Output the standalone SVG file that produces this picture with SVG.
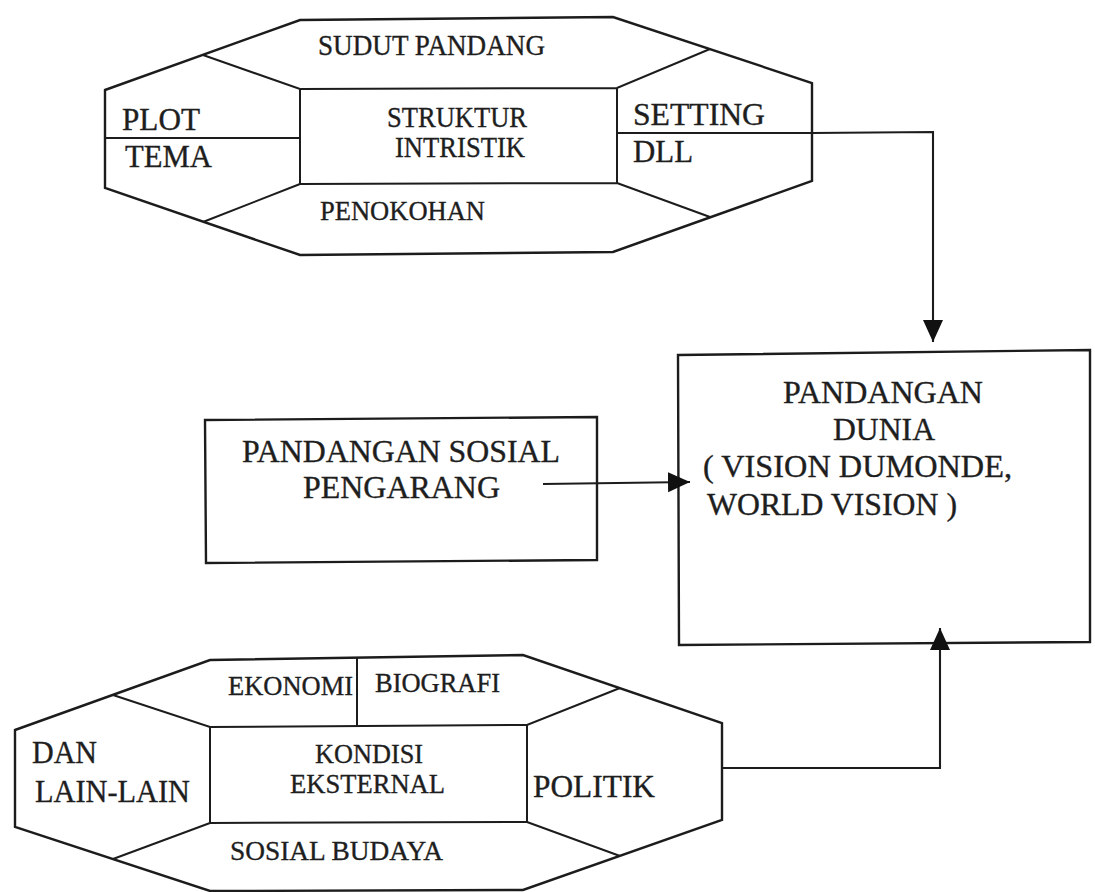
<svg xmlns="http://www.w3.org/2000/svg" width="1095" height="892" viewBox="0 0 1095 892">
<style>
.ln{fill:none;stroke:#1c1c1c;stroke-width:2.4;stroke-linejoin:miter}
.dv{fill:none;stroke:#1c1c1c;stroke-width:2}
.cn{fill:none;stroke:#1c1c1c;stroke-width:2.1}
text{font-family:"Liberation Serif","Times New Roman",serif;fill:#1e1e1e;stroke:#1e1e1e;stroke-width:0.35}
.s26{font-size:28px}
.s27{font-size:29px}
.s31{font-size:31px}
</style>
<defs>
<marker id="ah" markerUnits="userSpaceOnUse" markerWidth="24" markerHeight="22" refX="22" refY="10" orient="auto">
<path d="M0,0 L22,10 L0,20 Z" fill="#111"/>
</marker>
</defs>
<rect width="1095" height="892" fill="#ffffff"/>

<g id="struktur-intristik">
<path class="ln" d="M105,90 L300,20 L613,17 L812,83 L812,181 L613,252 L300,255 L105,188 Z"/>
<path class="dv" d="M203,55 L300,89 L617,88 L710,49 M300,89 L300,184 L617,183 L617,88 M203,222 L300,184 M617,183 L710,217 M105,138 L300,138 M617,133 L812,133"/>
<text class="s27" x="318" y="55" textLength="227" lengthAdjust="spacingAndGlyphs">SUDUT PANDANG</text>
<text class="s31" x="122" y="130" textLength="78" lengthAdjust="spacingAndGlyphs">PLOT</text>
<text class="s31" x="125" y="167" textLength="87" lengthAdjust="spacingAndGlyphs">TEMA</text>
<text class="s27" x="387" y="127" textLength="140" lengthAdjust="spacingAndGlyphs">STRUKTUR</text>
<text class="s27" x="395" y="157" textLength="130" lengthAdjust="spacingAndGlyphs">INTRISTIK</text>
<text class="s31" x="633" y="125" textLength="132" lengthAdjust="spacingAndGlyphs">SETTING</text>
<text class="s31" x="633" y="162" textLength="60" lengthAdjust="spacingAndGlyphs">DLL</text>
<text class="s26" x="320" y="220" textLength="165" lengthAdjust="spacingAndGlyphs">PENOKOHAN</text>
</g>

<g id="pandangan-sosial">
<path class="ln" d="M205,420 L597,417 L597,560 L206,563 Z"/>
<text class="s31" x="242" y="462" textLength="318" lengthAdjust="spacingAndGlyphs">PANDANGAN SOSIAL</text>
<text class="s31" x="303" y="498" textLength="197" lengthAdjust="spacingAndGlyphs">PENGARANG</text>
</g>

<g id="pandangan-dunia">
<path class="ln" d="M678,355 L1090,350 L1090,642 L679,645 Z"/>
<text class="s31" x="783" y="403" textLength="200" lengthAdjust="spacingAndGlyphs">PANDANGAN</text>
<text class="s31" x="833" y="440" textLength="102" lengthAdjust="spacingAndGlyphs">DUNIA</text>
<text class="s31" x="703" y="477" textLength="309" lengthAdjust="spacingAndGlyphs">( VISION DUMONDE,</text>
<text class="s31" x="707" y="515" textLength="250" lengthAdjust="spacingAndGlyphs">WORLD VISION )</text>
</g>

<g id="kondisi-eksternal">
<path class="ln" d="M15,730 L210,660 L523,655 L722,723 L722,820 L523,890 L210,891 L15,827 Z"/>
<path class="dv" d="M113,695 L210,727 L527,725 L620,688 M210,727 L210,823 L527,822 L527,725 M113,859 L210,823 M527,822 L620,856 M357,658 L357,727"/>
<text class="s26" x="228" y="695" textLength="125" lengthAdjust="spacingAndGlyphs">EKONOMI</text>
<text class="s26" x="375" y="692" textLength="125" lengthAdjust="spacingAndGlyphs">BIOGRAFI</text>
<text class="s31" x="32" y="763" textLength="65" lengthAdjust="spacingAndGlyphs">DAN</text>
<text class="s31" x="35" y="802" textLength="155" lengthAdjust="spacingAndGlyphs">LAIN-LAIN</text>
<text class="s26" x="315" y="763" textLength="108" lengthAdjust="spacingAndGlyphs">KONDISI</text>
<text class="s26" x="290" y="793" textLength="155" lengthAdjust="spacingAndGlyphs">EKSTERNAL</text>
<text class="s31" x="533" y="797" textLength="122" lengthAdjust="spacingAndGlyphs">POLITIK</text>
<text class="s26" x="230" y="860" textLength="213" lengthAdjust="spacingAndGlyphs">SOSIAL BUDAYA</text>
</g>

<g id="connectors">
<path class="cn" d="M812,133 L933,132 L933,342" marker-end="url(#ah)"/>
<path class="cn" d="M543,484 L690,482" marker-end="url(#ah)"/>
<path class="cn" d="M722,768 L940,768 L940,628" marker-end="url(#ah)"/>
</g>
</svg>
